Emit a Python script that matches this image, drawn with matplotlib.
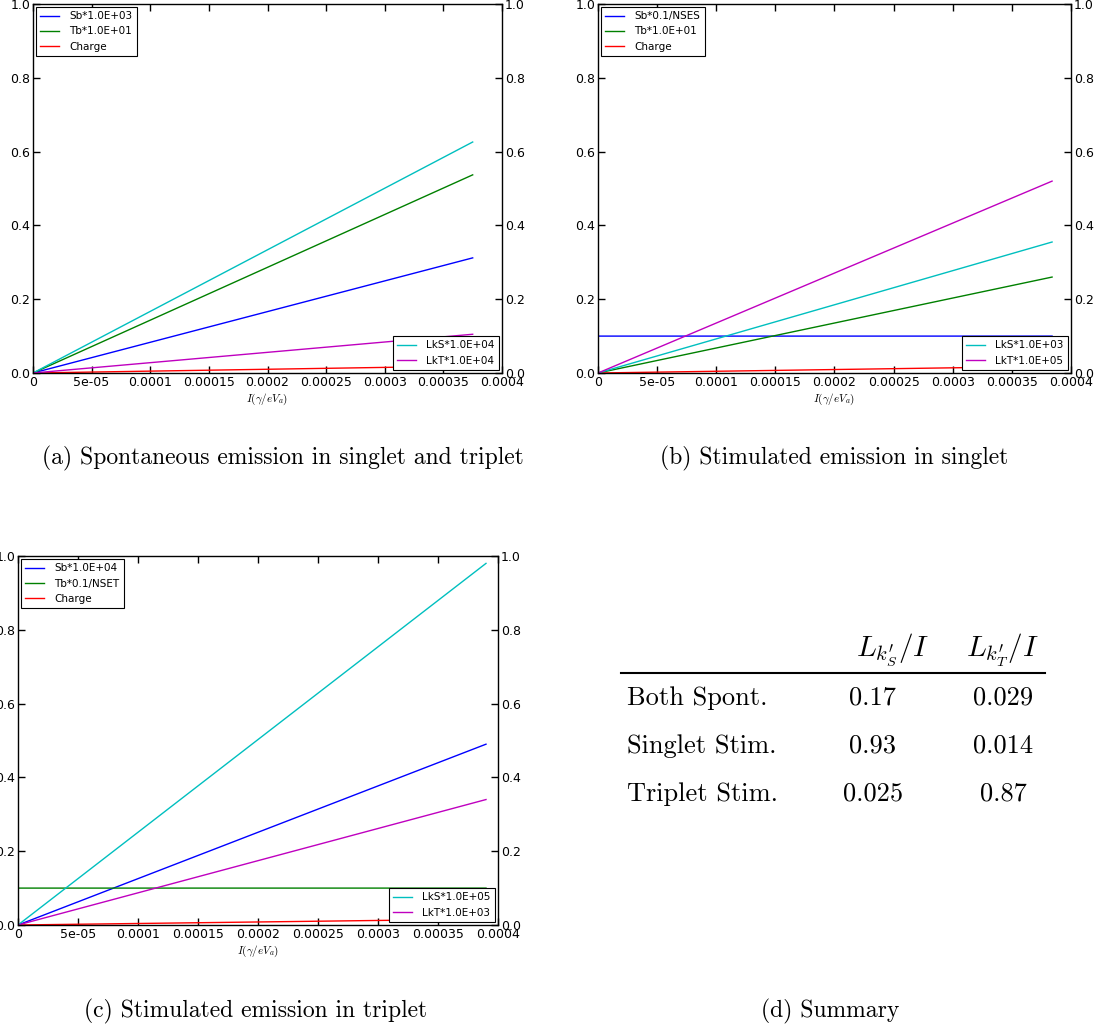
import matplotlib
matplotlib.use("Agg")
import matplotlib.pyplot as plt

plt.rcParams['mathtext.fontset'] = 'cm'

# --- line data for the three panels (x in gamma/eV_a, y scaled)
x_a = [0.0, 0.0000001, 0.000375]
sb_a = [0.0, 0.0001, 0.312]
tb_a = [0.0, 0.0001, 0.537]
charge_a = [0.0, 0.0, 0.019]
lks_a = [0.0, 0.0002, 0.626]
lkt_a = [0.0, 0.0, 0.105]

x_b = [0.0, 0.0000001, 0.000384]
sb_b = [0.0, 0.1, 0.1]
tb_b = [0.0, 0.0001, 0.26]
charge_b = [0.0, 0.0, 0.018]
lks_b = [0.0, 0.0001, 0.355]
lkt_b = [0.0, 0.0001, 0.52]

x_c = [0.0, 0.0000001, 0.00039]
sb_c = [0.0, 0.0001, 0.49]
tb_c = [0.0, 0.1, 0.1]
charge_c = [0.0, 0.0, 0.016]
lks_c = [0.0, 0.0003, 0.98]
lkt_c = [0.0, 0.0001, 0.34]

labels_a = ['Sb*1.0E+03', 'Tb*1.0E+01', 'Charge', 'LkS*1.0E+04', 'LkT*1.0E+04']
labels_b = ['Sb*0.1/NSES', 'Tb*1.0E+01', 'Charge', 'LkS*1.0E+03', 'LkT*1.0E+05']
labels_c = ['Sb*1.0E+04', 'Tb*0.1/NSET', 'Charge', 'LkS*1.0E+05', 'LkT*1.0E+03']

xticks = [0, 0.00005, 0.0001, 0.00015, 0.0002, 0.00025, 0.0003, 0.00035, 0.0004]
xticklabels = ['0', '5e-05', '0.0001', '0.00015', '0.0002', '0.00025', '0.0003',
               '0.00035', '0.0004']
yticks = [0.0, 0.2, 0.4, 0.6, 0.8, 1.0]

# summary table
rows = ['Both Spont.', 'Singlet Stim.', 'Triplet Stim.']
col_s = ['0.17', '0.93', '0.025']
col_t = ['0.029', '0.014', '0.87']

colors = ['b', 'g', 'r', 'c', 'm']

W, H = 1105, 1029
fig = plt.figure(figsize=(W / 100, H / 100), dpi=100)


def panel(left, top, right, bottom, x, series, labels):
    ax = fig.add_axes([left / W, 1 - bottom / H, (right - left) / W, (bottom - top) / H])
    lines = []
    for y, c in zip(series, colors):
        ln, = ax.plot(x, y, color=c, lw=1.0)
        lines.append(ln)
    ax.set_xlim(0, 0.0004)
    ax.set_ylim(0, 1.0)
    ax.set_xticks(xticks)
    ax.set_xticklabels(xticklabels)
    ax.set_yticks(yticks)
    ax.tick_params(direction='in', top=True, right=True, labelright=True,
                   labelsize=9, length=5, width=1, pad=2)
    for s in ax.spines.values():
        s.set_linewidth(1.0)
    ax.set_xlabel(r'$I(\gamma/eV_a)$', fontsize=8, labelpad=2)
    legkw = dict(fontsize=7.5, fancybox=False, edgecolor='black', framealpha=1,
                 handlelength=1.8, handletextpad=1.0, borderaxespad=0.3,
                 labelspacing=0.5, borderpad=0.4)
    leg1 = ax.legend(lines[:3], labels[:3], loc='upper left', **legkw)
    leg1.get_frame().set_linewidth(0.8)
    ax.add_artist(leg1)
    leg2 = ax.legend(lines[3:], labels[3:], loc='lower right', **legkw)
    leg2.get_frame().set_linewidth(0.8)
    return ax


panel(33, 4, 502, 373, x_a, [sb_a, tb_a, charge_a, lks_a, lkt_a], labels_a)
panel(598, 4, 1071, 373, x_b, [sb_b, tb_b, charge_b, lks_b, lkt_b], labels_b)
panel(18, 556, 498, 925, x_c, [sb_c, tb_c, charge_c, lks_c, lkt_c], labels_c)

capkw = dict(fontsize=17, family='cmr10', ha='center', va='center')
fig.text(283 / W, 1 - 458 / H, '(a) Spontaneous emission in singlet and triplet', **capkw)
fig.text(834 / W, 1 - 458 / H, '(b) Stimulated emission in singlet', **capkw)
fig.text(256 / W, 1 - 1011 / H, '(c) Stimulated emission in triplet', **capkw)
fig.text(830 / W, 1 - 1011 / H, '(d) Summary', **capkw)

# summary table drawn as text
tkw = dict(fontsize=19, family='cmr10', va='center')
fig.text(893 / W, 1 - 650 / H, r"$L_{k^{\prime}_{S}}/I$", ha='center', fontsize=21, va='center')
fig.text(1003 / W, 1 - 650 / H, r"$L_{k^{\prime}_{T}}/I$", ha='center', fontsize=21, va='center')
fig.add_artist(plt.Line2D([621 / W, 1045 / W], [1 - 673 / H, 1 - 673 / H],
                          color='black', lw=1.5))
for i, (r, s, t) in enumerate(zip(rows, col_s, col_t)):
    yy = 1 - (698 + 48 * i) / H
    fig.text(627 / W, yy, r, ha='left', **tkw)
    fig.text(873 / W, yy, s, ha='center', **tkw)
    fig.text(1003 / W, yy, t, ha='center', **tkw)

fig.savefig('out.png', dpi=100)
